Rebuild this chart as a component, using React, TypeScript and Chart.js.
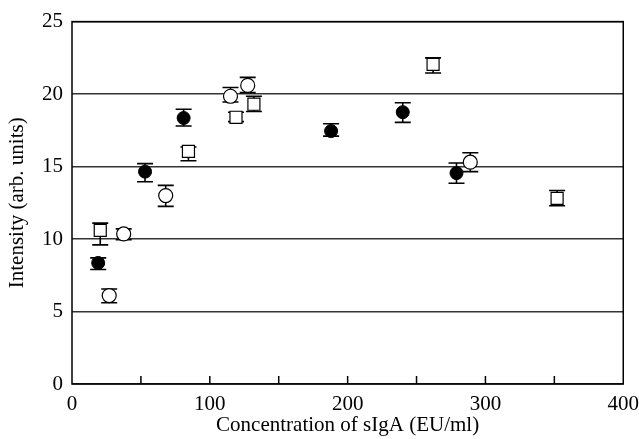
import React, { useEffect, useRef } from "react";
import { Chart, registerables } from "chart.js";

Chart.register(...registerables);

// Filled circles
const filledX = [19, 53, 81, 188, 240, 279];
const filledY = [8.35, 14.65, 18.35, 17.45, 18.75, 14.55];
const filledLo = [7.9, 13.95, 17.8, 17.1, 18.05, 13.85];
const filledHi = [8.7, 15.2, 18.95, 17.95, 19.4, 15.25];

// Open circles
const openX = [27, 37.5, 68, 115, 127.5, 289];
const openY = [6.1, 10.35, 13.0, 19.85, 20.6, 15.3];
const openLo = [5.6, 9.95, 12.25, 19.45, 20.1, 14.65];
const openHi = [6.55, 10.7, 13.7, 20.45, 21.15, 15.95];

// Open squares
const squareX = [20.5, 84.5, 119, 132, 262, 352];
const squareY = [10.6, 16.05, 18.4, 19.3, 22.05, 12.8];
const squareLo = [9.6, 15.4, 18.1, 18.8, 21.45, 12.3];
const squareHi = [11.1, 16.35, 18.75, 19.85, 22.5, 13.35];

const xTicks = [0, 50, 100, 150, 200, 250, 300, 350, 400];
const yTicks = [0, 5, 10, 15, 20, 25];

const FONT = "'Liberation Serif', 'Times New Roman', serif";

function pts(xs: number[], ys: number[]) {
  return xs.map((x, i) => ({ x, y: ys[i] }));
}

const errLo = [filledLo, openLo, squareLo];
const errHi = [filledHi, openHi, squareHi];

const errorBarPlugin = {
  id: "errorBars",
  beforeDatasetsDraw(chart: any) {
    const ctx = chart.ctx;
    const yScale = chart.scales.y;
    ctx.save();
    ctx.strokeStyle = "#000";
    ctx.lineWidth = 1.6;
    chart.data.datasets.forEach((ds: any, di: number) => {
      const meta = chart.getDatasetMeta(di);
      meta.data.forEach((el: any, i: number) => {
        const x = el.x;
        const yl = yScale.getPixelForValue(errLo[di][i]);
        const yh = yScale.getPixelForValue(errHi[di][i]);
        const cap = 8;
        ctx.beginPath();
        ctx.moveTo(x, yl);
        ctx.lineTo(x, yh);
        ctx.moveTo(x - cap, yl);
        ctx.lineTo(x + cap, yl);
        ctx.moveTo(x - cap, yh);
        ctx.lineTo(x + cap, yh);
        ctx.stroke();
      });
    });
    ctx.restore();
  },
};

const framePlugin = {
  id: "frame",
  afterDraw(chart: any) {
    const ctx = chart.ctx;
    const { left, right, top, bottom } = chart.chartArea;
    const xs = chart.scales.x;
    ctx.save();
    ctx.strokeStyle = "#000";
    ctx.lineWidth = 1.5;
    ctx.strokeRect(left, top, right - left, bottom - top);
    ctx.beginPath();
    xTicks.forEach((v) => {
      if (v === 0 || v === 400) return;
      const px = xs.getPixelForValue(v);
      ctx.moveTo(px, bottom);
      ctx.lineTo(px, bottom - 8);
    });
    ctx.stroke();
    ctx.restore();
  },
};

export default function App() {
  const ref = useRef<HTMLCanvasElement>(null);
  useEffect(() => {
    if (!ref.current) return;
    const chart = new Chart(ref.current, {
      type: "scatter",
      data: {
        datasets: [
          {
            label: "filled",
            data: pts(filledX, filledY),
            pointStyle: "circle",
            pointRadius: 6.5,
            backgroundColor: "#000",
            borderColor: "#000",
            borderWidth: 1,
          },
          {
            label: "open",
            data: pts(openX, openY),
            pointStyle: "circle",
            pointRadius: 7,
            backgroundColor: "#fff",
            borderColor: "#000",
            borderWidth: 1.2,
          },
          {
            label: "square",
            data: pts(squareX, squareY),
            pointStyle: "rect",
            pointRadius: 8.5,
            backgroundColor: "#fff",
            borderColor: "#000",
            borderWidth: 1.2,
          },
        ],
      },
      options: {
        responsive: false,
        animation: false,
        events: [],
        layout: { padding: { top: 21, right: 15, left: 0, bottom: 0 } },
        plugins: { legend: { display: false }, tooltip: { enabled: false } },
        scales: {
          x: {
            type: "linear",
            min: 0,
            max: 400,
            afterFit: (s: any) => {
              s.height = 55;
            },
            afterBuildTicks: (s: any) => {
              s.ticks = xTicks.map((v) => ({ value: v }));
            },
            ticks: {
              autoSkip: false,
              maxRotation: 0,
              padding: 0,
              color: "#000",
              font: { family: FONT, size: 21 },
              callback: (v: any) => (Number(v) % 100 === 0 ? String(v) : ""),
            },
            grid: { display: false },
            border: { display: false },
            title: {
              display: true,
              text: "Concentration of sIgA (EU/ml)",
              color: "#000",
              font: { family: FONT, size: 21 },
              padding: { top: 0, bottom: 1 },
            },
          },
          y: {
            type: "linear",
            min: 0,
            max: 25,
            afterFit: (s: any) => {
              s.width = 72;
            },
            afterBuildTicks: (s: any) => {
              s.ticks = yTicks.map((v) => ({ value: v }));
            },
            ticks: {
              padding: 9,
              color: "#000",
              font: { family: FONT, size: 21 },
            },
            grid: { color: "#333", lineWidth: 1.5, drawTicks: false },
            border: { display: false },
            title: {
              display: true,
              text: "Intensity (arb. units)",
              color: "#000",
              font: { family: FONT, size: 21 },
              padding: { top: 5, bottom: 0 },
            },
          },
        },
      },
      plugins: [errorBarPlugin, framePlugin],
    });
    return () => chart.destroy();
  }, []);
  return (
    <div style={{ position: "absolute", left: 0, top: 0, width: 639, height: 439, background: "#fff" }}>
      <canvas ref={ref} width={639} height={439} style={{ width: 639, height: 439 }} />
    </div>
  );
}
